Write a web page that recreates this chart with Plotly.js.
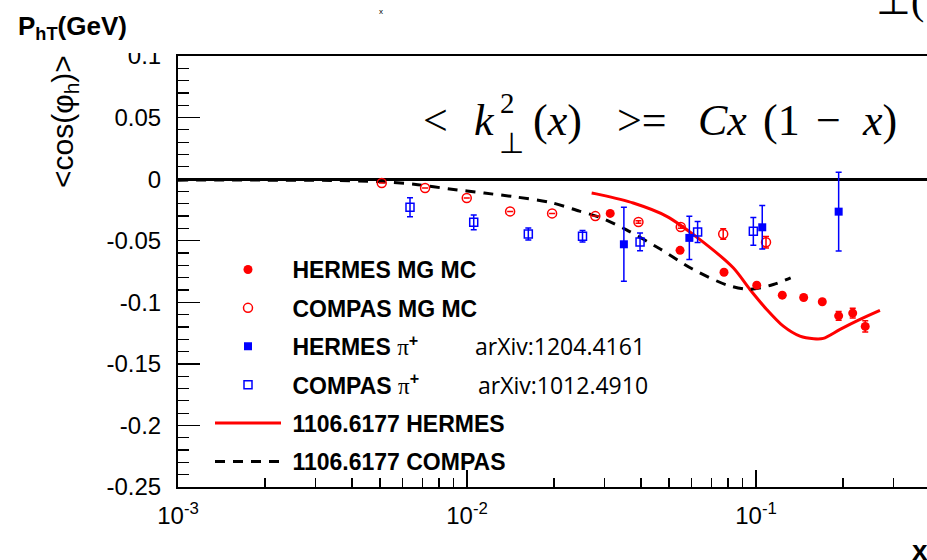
<!DOCTYPE html>
<html><head><meta charset="utf-8">
<script src="https://cdn.plot.ly/plotly-3.0.1.min.js"></script>
<style>html,body{margin:0;padding:0;background:#fff;} #chart{width:927px;height:560px;}</style>
</head><body><div id="chart"></div>
<script>
// ---- data ----
const hermesMcX   = [0.0313, 0.0546, 0.0775, 0.1006, 0.1233, 0.1462, 0.1696, 0.1932, 0.2161, 0.2388];
const hermesMcY   = [-0.0278, -0.0578, -0.0756, -0.0861, -0.0942, -0.0961, -0.0996, -0.1110, -0.1088, -0.1196];
const hermesMcErr = [0.0012, 0.0012, 0.0012, 0.0012, 0.0012, 0.0012, 0.0012, 0.0036, 0.004, 0.0046];

const compasMcX   = [0.00507, 0.00716, 0.00998, 0.0141, 0.0197, 0.0278, 0.0392, 0.0549, 0.0770, 0.1083];
const compasMcY   = [-0.0032, -0.0072, -0.0153, -0.0262, -0.0278, -0.0300, -0.0348, -0.0388, -0.0445, -0.0513];
const compasMcErr = [0, 0, 0, 0, 0, 0, 0.001, 0.001, 0.0043, 0.0047];

const hermesPiX   = [0.0349, 0.0588, 0.1051, 0.1932];
const hermesPiY   = [-0.0529, -0.0477, -0.0391, -0.0264];
const hermesPiErr = [0.0300, 0.0176, 0.0176, 0.0319];

const compasPiX   = [0.00635, 0.01055, 0.0163, 0.0251, 0.0397, 0.0628, 0.0979];
const compasPiY   = [-0.0229, -0.0351, -0.0445, -0.0464, -0.0510, -0.0429, -0.0424];
const compasPiErr = [0.0077, 0.0060, 0.0049, 0.0047, 0.0072, 0.0085, 0.0112];

const hermesTheoryX = [0.0270, 0.0288, 0.0376, 0.0491, 0.0640, 0.0834, 0.0953, 0.1089, 0.1243, 0.1419, 0.1585, 0.1710, 0.1954, 0.2291, 0.2685];
const hermesTheoryY = [-0.0113, -0.0126, -0.0194, -0.0302, -0.0491, -0.0720, -0.0896, -0.1058, -0.1194, -0.1275, -0.1296, -0.1293, -0.1220, -0.1139, -0.1066];

const compasTheoryX = [0.0010, 0.0020, 0.00316, 0.0050, 0.00676, 0.00871, 0.01148, 0.01479, 0.0195, 0.0245, 0.0288, 0.0355, 0.0468, 0.0603, 0.0794, 0.0955, 0.1148, 0.1318];
const compasTheoryY = [-0.0008, -0.0008, -0.0010, -0.0020, -0.0045, -0.0080, -0.0113, -0.0145, -0.0190, -0.0260, -0.0310, -0.0410, -0.0570, -0.0730, -0.0860, -0.0895, -0.0856, -0.0802];

const xTickVals = [0.001, 0.01, 0.1];
const xTickText = ['10<sup>-3</sup>', '10<sup>-2</sup>', '10<sup>-1</sup>'];
const yTickVals = [0.1, 0.05, 0, -0.05, -0.1, -0.15, -0.2, -0.25];
const yTickText = ['0.1', '0.05', '0', '-0.05', '-0.1', '-0.15', '-0.2', '-0.25'];

const legendNames = [
  '\u00a0<b>HERMES MG MC</b>',
  '\u00a0<b>COMPAS MG MC</b>',
  '\u00a0<b>HERMES</b> <span style="font-family:Liberation Serif;font-weight:normal">π</span><sup><b>+</b></sup>',
  '\u00a0<b>COMPAS</b> <span style="font-family:Liberation Serif;font-weight:normal">π</span><sup><b>+</b></sup>',
  '\u00a0<b>1106.6177 HERMES</b>',
  '\u00a0<b>1106.6177 COMPAS</b>'
];

// ---- geometry helpers (pixel -> paper) ----
const W = 927, H = 560, ML = 178, MR = 0, MT = 56, MB = 73;
const PW = W - ML - MR, PH = H - MT - MB;
const px = v => (v - ML) / PW;
const py = v => 1 - (v - MT) / PH;

const RED = '#ff0000', BLUE = '#0000ff';
const errStyle = c => ({thickness: 1.5, width: 3, color: c});
const SERIF = 'Liberation Serif, Times New Roman, serif';
const SANS = 'Liberation Sans, Arial, sans-serif';

const traces = [
  {x: hermesTheoryX, y: hermesTheoryY, type: 'scatter', mode: 'lines', name: legendNames[4],
   line: {color: RED, width: 3, shape: 'spline', smoothing: 0.8}, legendgroup: 'g5', legendrank: 5},
  {x: compasTheoryX, y: compasTheoryY, type: 'scatter', mode: 'lines', name: legendNames[5],
   line: {color: '#000', width: 3, dash: '10px,8px', shape: 'spline', smoothing: 0.8}, legendgroup: 'g6', legendrank: 6},
  {x: hermesMcX, y: hermesMcY, type: 'scatter', mode: 'markers', name: legendNames[0],
   marker: {symbol: 'circle', size: 9, color: RED},
   error_y: Object.assign({type: 'data', array: hermesMcErr}, errStyle(RED)), legendgroup: 'g1', legendrank: 1},
  {x: compasMcX, y: compasMcY, type: 'scatter', mode: 'markers', name: legendNames[1],
   marker: {symbol: 'circle-open', size: 9, color: RED, line: {width: 1.5, color: RED}},
   error_y: Object.assign({type: 'data', array: compasMcErr}, errStyle(RED)), legendgroup: 'g2', legendrank: 2},
  {x: hermesPiX, y: hermesPiY, type: 'scatter', mode: 'markers', name: legendNames[2],
   marker: {symbol: 'square', size: 8, color: BLUE},
   error_y: Object.assign({type: 'data', array: hermesPiErr}, errStyle(BLUE)), legendgroup: 'g3', legendrank: 3},
  {x: compasPiX, y: compasPiY, type: 'scatter', mode: 'markers', name: legendNames[3],
   marker: {symbol: 'square-open', size: 8, color: BLUE, line: {width: 1.5, color: BLUE}},
   error_y: Object.assign({type: 'data', array: compasPiErr}, errStyle(BLUE)), legendgroup: 'g4', legendrank: 4}
];

const tickFont = {family: SANS, size: 24, color: '#000'};

// formula pieces: [text, centre x px, centre y px, size, family]
const FY = 121;
const formula = [
  ['&lt;', 435, FY, 44, SERIF],
  ['<i>k</i>', 484, FY, 44, SERIF],
  ['2', 507, FY - 18, 29, SERIF],
  ['⊥', 511, FY + 22, 29, SERIF],
  ['(<i>x</i>)', 557, FY, 44, SERIF],
  ['&gt;=', 642, FY, 44, SERIF],
  ['<i>Cx</i>', 722, FY, 44, SERIF],
  ['(1', 781, FY, 44, SERIF],
  ['−', 828, FY, 44, SERIF],
  ['<i>x</i>)', 879, FY, 44, SERIF]
];

const annotations = [
  {xref: 'paper', yref: 'paper', x: px(16), y: py(27), xanchor: 'left', yanchor: 'middle', showarrow: false,
   text: '<b>P<sub>hT</sub>(GeV)</b>', font: {family: SANS, size: 26, color: '#000'}},
  {xref: 'paper', yref: 'paper', x: px(64), y: py(122), xanchor: 'center', yanchor: 'middle', showarrow: false,
   textangle: -90, text: '&lt;cos(φ<sub>h</sub>)&gt;', font: {family: SANS, size: 30, color: '#000'}},
  {xref: 'paper', yref: 'paper', x: px(920), y: py(550), xanchor: 'center', yanchor: 'middle', showarrow: false,
   text: '<b>x</b>', font: {family: SANS, size: 28, color: '#000'}},
  {xref: 'paper', yref: 'paper', x: px(473), y: py(346), xanchor: 'left', yanchor: 'middle', showarrow: false,
   text: 'arXiv:1204.4161', font: {family: 'Open Sans, sans-serif', size: 23, color: '#000'}},
  {xref: 'paper', yref: 'paper', x: px(476), y: py(385), xanchor: 'left', yanchor: 'middle', showarrow: false,
   text: 'arXiv:1012.4910', font: {family: 'Open Sans, sans-serif', size: 23, color: '#000'}},
  {xref: 'paper', yref: 'paper', x: px(381), y: py(11), xanchor: 'center', yanchor: 'middle', showarrow: false,
   text: 'x', font: {family: SANS, size: 8, color: '#000'}},
  {xref: 'paper', yref: 'paper', x: px(874), y: py(0), xanchor: 'left', yanchor: 'middle', showarrow: false,
   text: '⊥(', font: {family: SERIF, size: 40, color: '#000'}}
].concat(formula.map(f => ({
  xref: 'paper', yref: 'paper', x: px(f[1]), y: py(f[2]), xanchor: 'center', yanchor: 'middle',
  showarrow: false, text: f[0], font: {family: f[4], size: f[3], color: '#000'}
})));

const layout = {
  width: W, height: H,
  margin: {l: ML, r: MR, t: MT, b: MB, pad: 0},
  paper_bgcolor: '#fff', plot_bgcolor: '#fff',
  showlegend: true,
  legend: {
    x: px(210), y: py(248), xanchor: 'left', yanchor: 'top',
    bgcolor: 'rgba(0,0,0,0)', borderwidth: 0,
    font: {family: SANS, size: 23, color: '#000'},
    itemwidth: 66, traceorder: 'grouped', tracegroupgap: 5.5
  },
  xaxis: {
    type: 'log', range: [-3, -3 + PW / 289],
    tickmode: 'array', tickvals: xTickVals, ticktext: xTickText,
    ticks: 'inside', ticklen: 17, tickwidth: 1.5, tickcolor: '#000',
    minor: {dtick: 'D1', ticks: 'inside', ticklen: 9, tickwidth: 1.2, tickcolor: '#000', showgrid: false},
    showline: true, linecolor: '#000', linewidth: 2, mirror: true,
    showgrid: false, zeroline: false, tickfont: tickFont, ticklabelstandoff: 6
  },
  yaxis: {
    range: [-0.25, 0.1],
    tickmode: 'array', tickvals: yTickVals, ticktext: yTickText,
    ticks: 'inside', ticklen: 22, tickwidth: 1.5, tickcolor: '#000',
    minor: {dtick: 0.01, tick0: 0, ticks: 'inside', ticklen: 11, tickwidth: 1.2, tickcolor: '#000', showgrid: false},
    showline: true, linecolor: '#000', linewidth: 2, mirror: false,
    showgrid: false, zeroline: true, zerolinecolor: '#000', zerolinewidth: 3,
    tickfont: tickFont, ticklabelstandoff: 10
  },
  shapes: [
    {type: 'rect', xref: 'paper', yref: 'paper', x0: px(100), x1: px(176), y0: py(53), y1: py(0),
     fillcolor: '#fff', line: {width: 0}, layer: 'above'}
  ],
  annotations: annotations
};

Plotly.newPlot('chart', traces, layout, {staticPlot: true, displayModeBar: false});
</script>
</body></html>
